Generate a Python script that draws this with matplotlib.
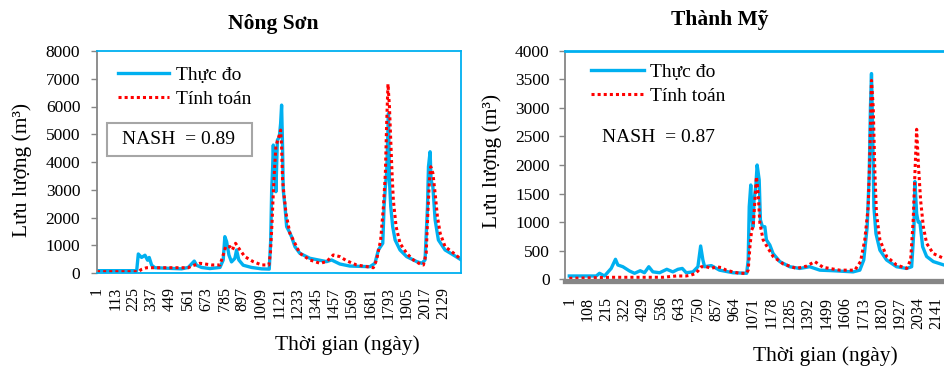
import matplotlib
matplotlib.use("Agg")
import matplotlib.pyplot as plt
from matplotlib.patches import Rectangle

plt.rcParams['font.family'] = ['Liberation Serif', 'DejaVu Serif']

# Nong Son - observed (Thuc do)
ns_obs_days = [1, 245, 255, 275, 296, 312, 322, 337, 357, 521, 562, 599, 613, 644, 695,
               757, 777, 787, 798, 812, 828, 849, 859, 873, 900, 951, 1013, 1060,
               1069, 1075, 1081, 1085, 1091, 1095, 1101, 1110, 1122, 1130, 1136, 1142,
               1146, 1157, 1167, 1183, 1197, 1218, 1248, 1310, 1413, 1443, 1494, 1556,
               1679, 1710, 1731, 1758, 1766, 1774, 1782, 1793, 1799, 1807, 1819, 1834,
               1864, 1905, 1967, 1998, 2018, 2033, 2039, 2049, 2055, 2066, 2080, 2100,
               2141, 2192, 2238]
ns_obs_vals = [84, 84, 685, 560, 640, 460, 560, 280, 190, 150, 200, 430, 280, 200, 160,
               200, 470, 1310, 1130, 650, 400, 530, 830, 470, 280, 200, 150, 140,
               1190, 2990, 3830, 4610, 3600, 4400, 2930, 4790, 4900, 5390, 6050, 4500,
               2990, 2390, 1670, 1490, 1310, 950, 710, 530, 410, 470, 324, 250,
               228, 350, 830, 1070, 2390, 3110, 3600, 5750, 3350, 2390, 1670, 1190,
               830, 590, 410, 350, 470, 2390, 3830, 4370, 3350, 3110, 1910, 1190,
               830, 650, 480]

# Nong Son - computed (Tinh toan)
ns_sim_days = [1, 255, 275, 306, 562, 583, 634, 706, 757, 777, 792, 818, 833, 853, 880,
               910, 961, 1013, 1058, 1067, 1077, 1083, 1091, 1101, 1112, 1122, 1130,
               1136, 1142, 1150, 1163, 1187, 1218, 1248, 1310, 1372, 1413, 1433, 1454,
               1494, 1536, 1597, 1659, 1700, 1720, 1745, 1762, 1774, 1782, 1790, 1799,
               1807, 1815, 1823, 1840, 1864, 1905, 1946, 1987, 2008, 2025, 2035, 2045,
               2053, 2066, 2080, 2094, 2111, 2141, 2182, 2238]
ns_sim_vals = [48, 48, 130, 190, 190, 250, 350, 290, 290, 650, 950, 950, 830, 1070, 830,
               590, 410, 290, 290, 710, 1790, 2630, 3600, 4560, 4790, 4970, 5150,
               4560, 3350, 2870, 2150, 1430, 1070, 710, 470, 350, 410, 530, 650,
               590, 440, 290, 230, 190, 470, 1190, 2390, 3600, 5390, 6810, 6000,
               4790, 3600, 2630, 1670, 1070, 710, 470, 325, 290, 710, 2150, 3350,
               3830, 3600, 2870, 2030, 1430, 950, 770, 500]

# Thanh My - observed (Thuc do)
tm_obs_days = [1, 158, 177, 206, 245, 270, 284, 313, 352, 381, 414, 439, 464, 488, 527,
               569, 604, 634, 659, 682, 721, 750, 766, 779, 789, 828, 876, 954, 1034,
               1043, 1049, 1058, 1066, 1072, 1077, 1087, 1095, 1107, 1114, 1126, 1140,
               1149, 1169, 1188, 1227, 1285, 1343, 1401, 1460, 1537, 1654, 1693, 1716,
               1736, 1748, 1755, 1761, 1767, 1775, 1787, 1810, 1849, 1907, 1966, 1995,
               2008, 2014, 2024, 2033, 2043, 2059, 2082, 2121, 2183, 2238]
tm_obs_vals = [58, 58, 105, 58, 190, 350, 250, 220, 145, 105, 150, 115, 220, 130, 115,
               175, 130, 175, 190, 115, 130, 220, 583, 340, 220, 240, 160, 115, 105,
               338, 1270, 1650, 1040, 920, 1385, 1615, 2000, 1740, 1040, 920, 920,
               690, 600, 450, 310, 220, 190, 220, 160, 150, 130, 160, 338,
               920, 1855, 3020, 3600, 2730, 1270, 800, 510, 338, 220, 190, 220,
               860, 1710, 1150, 1000, 1000, 570, 400, 310, 250, 230]

# Thanh My - computed (Tinh toan)
tm_sim_days = [1, 254, 546, 624, 682, 711, 731, 750, 770, 799, 828, 857, 886, 915, 954,
               993, 1032, 1043, 1053, 1063, 1072, 1082, 1091, 1101, 1111, 1130, 1159,
               1188, 1246, 1324, 1382, 1431, 1479, 1576, 1664, 1697, 1722, 1742, 1751,
               1761, 1771, 1781, 1790, 1810, 1849, 1907, 1966, 1989, 2004, 2014, 2024,
               2035, 2047, 2063, 2082, 2121, 2179, 2238]
tm_sim_vals = [17, 35, 35, 58, 58, 75, 95, 145, 220, 220, 190, 220, 205, 160, 130,
               105, 105, 160, 570, 860, 920, 1385, 1795, 1500, 980, 690, 540,
               400, 270, 190, 230, 310, 210, 160, 160, 310, 690, 1270, 2140,
               3480, 3020, 1855, 1150, 690, 400, 250, 190, 338, 1040, 1855, 2625,
               1970, 1385, 920, 630, 450, 370, 330]

ns_ticks = list(range(1, 2130, 112))
tm_ticks = list(range(1, 2142, 107))

W, H = 944, 367
BLUE = '#00B0F0'
RED = '#FF0000'
GRAY = '#868686'


def fx(px):
    return px / W


def fy(py):
    return 1 - py / H


fig = plt.figure(figsize=(W / 100, H / 100), dpi=100)

# ---- Nong Son ----
ax1 = fig.add_axes([fx(97), fy(273), (461 - 97) / W, (273 - 51) / H])
ax1.plot(ns_obs_days, ns_obs_vals, color=BLUE, lw=2.4, label='Thực đo')
ax1.plot(ns_sim_days, ns_sim_vals, color=RED, lw=2.2, ls=(0, (1, 1)), label='Tính toán')
ax1.set_xlim(1, 2239)
ax1.set_ylim(0, 8000)
ax1.set_yticks(range(0, 8001, 1000))
ax1.set_xticks(ns_ticks)
ax1.set_xticklabels([str(t) for t in ns_ticks])
for s in ['top', 'right', 'bottom']:
    ax1.spines[s].set_color(BLUE)
    ax1.spines[s].set_linewidth(1.3)
ax1.spines['left'].set_color(GRAY)
ax1.spines['left'].set_linewidth(1.3)
ax1.tick_params(axis='y', colors=GRAY, labelcolor='black', labelsize=12.5, length=4, width=1, pad=8)
ax1.tick_params(axis='x', length=0, labelsize=11.5, pad=10, labelrotation=90)
ax1.legend(loc='upper left', bbox_to_anchor=(0.058, 0.93), frameon=False, fontsize=14,
           handlelength=2.6, handletextpad=0.4, labelspacing=0.3, borderpad=0, borderaxespad=0)
ax1.add_patch(Rectangle((0.0275, 0.527), 0.398, 0.149, transform=ax1.transAxes,
                        fill=False, edgecolor='#A6A6A6', lw=1.5))
ax1.text(0.225, 0.6, 'NASH  = 0.89', transform=ax1.transAxes, ha='center', va='center', fontsize=14)

fig.text(fx(273), fy(24), 'Nông Sơn', ha='center', va='center', fontsize=15.5, fontweight='bold')
fig.text(fx(22), fy(170), 'Lưu lượng (m³)', rotation=90, ha='center', va='center', fontsize=15.5)
fig.text(fx(347), fy(345), 'Thời gian (ngày)', ha='center', va='center', fontsize=15.5)

# ---- Thanh My ----
x0 = 565
left_day = -24
px_per_day = 0.1717
right_px = x0 + (2238 - left_day) * px_per_day
ax2 = fig.add_axes([fx(x0), fy(279.3), (right_px - x0) / W, (279.3 - 50.7) / H])
ax2.spines['bottom'].set_position(('outward', 1.5))
ax2.plot(tm_obs_days, tm_obs_vals, color=BLUE, lw=2.4, label='Thực đo')
ax2.plot(tm_sim_days, tm_sim_vals, color=RED, lw=2.2, ls=(0, (1, 1)), label='Tính toán')
ax2.set_xlim(left_day, 2238)
ax2.set_ylim(0, 4000)
ax2.set_yticks(range(0, 4001, 500))
ax2.set_xticks(tm_ticks)
ax2.set_xticklabels([str(t) for t in tm_ticks])
ax2.spines['top'].set_color(BLUE)
ax2.spines['top'].set_linewidth(2)
ax2.spines['right'].set_visible(False)
ax2.spines['left'].set_color(GRAY)
ax2.spines['left'].set_linewidth(1.3)
ax2.spines['bottom'].set_color(GRAY)
ax2.spines['bottom'].set_linewidth(3.8)
ax2.tick_params(axis='y', colors=GRAY, labelcolor='black', labelsize=12.5, length=4, width=1, pad=7)
ax2.tick_params(axis='x', length=0, labelsize=11.5, pad=11, labelrotation=90)
ax2.legend(loc='upper left', bbox_to_anchor=(0.067, 0.945), frameon=False, fontsize=14,
           handlelength=2.7, handletextpad=0.35, labelspacing=0.35, borderpad=0, borderaxespad=0)
ax2.text(0.241, 0.622, 'NASH  = 0.87', transform=ax2.transAxes, ha='center', va='center', fontsize=14)

fig.text(fx(720), fy(20), 'Thành Mỹ', ha='center', va='center', fontsize=15.5, fontweight='bold')
fig.text(fx(492), fy(161), 'Lưu lượng (m³)', rotation=90, ha='center', va='center', fontsize=15.5)
fig.text(fx(825), fy(356), 'Thời gian (ngày)', ha='center', va='center', fontsize=15.5)

fig.savefig('out.png', dpi=100)
